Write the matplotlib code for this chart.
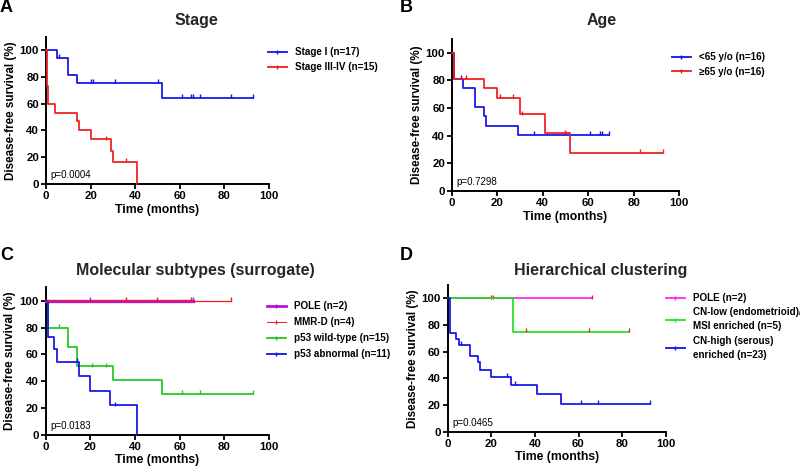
import matplotlib

matplotlib.use("Agg")
import matplotlib.pyplot as plt
import numpy as np
from matplotlib.lines import Line2D

plt.rcParams.update({
    "font.family": ["Liberation Sans", "DejaVu Sans"], "font.size": 8,
    "axes.linewidth": 1.4, "xtick.major.width": 1.3, "ytick.major.width": 1.3,
    "xtick.major.size": 3.5, "ytick.major.size": 3.5,
})

BLUE = "#1010ee"
RED = "#ee1c1c"
GREEN = "#1ec81e"
PURPLE = "#b414d2"
MAGENTA = "#ff22ee"

# ---- A: stage ----
a_names = ["Stage I (n=17)", "Stage III-IV (n=15)"]
a1_t = [0, 5, 10, 14, 52, 93]
a1_s = [100, 94.1, 81.6, 75.3, 64.5, 64.5]
a1_c = [6, 20, 21, 31, 50, 61, 65, 66, 69, 83, 93]
a2_t = [0, 0.3, 0.6, 1, 4, 14, 15, 20, 29, 30, 41]
a2_s = [100, 86.7, 73.3, 60, 53.3, 46.7, 40, 33.3, 25, 16.7, 0]
a2_c = [27, 36]

# ---- B: age ----
b_names = ["<65 y/o (n=16)", "\u226565 y/o (n=16)"]
b1_t = [0, 1, 5, 10, 14, 15, 29, 69]
b1_s = [100, 81.2, 74.4, 60.9, 54.1, 47.3, 40.6, 40.6]
b1_c = [4, 36, 50, 61, 65, 66, 69]
b2_t = [0, 1, 14, 20, 30, 41, 52, 93]
b2_s = [100, 81.2, 74.4, 67.6, 55.6, 41.8, 27.8, 27.8]
b2_c = [6, 21, 27, 31, 50, 83, 93]

# ---- C: molecular subtypes ----
c_names = ["POLE (n=2)", "MMR-D (n=4)", "p53 wild-type (n=15)", "p53 abnormal (n=11)"]
c1_t = [0, 66]
c1_s = [100, 100]
c1_c = [20, 66]
c2_t = [0, 83]
c2_s = [100, 100]
c2_c = [36, 50, 65, 83]
c3_t = [0, 1, 10, 14, 30, 52, 93]
c3_s = [100, 80, 65.7, 50.9, 40.8, 30.7, 30.7]
c3_c = [6, 21, 27, 61, 69, 93]
c4_t = [0, 1, 4, 5, 15, 20, 29, 41]
c4_s = [100, 72.7, 63.6, 54.5, 43.6, 32.7, 21.8, 0]
c4_c = [14, 31]

# ---- D: hierarchical clustering ----
d_names = ["POLE (n=2)", "CN-low (endometrioid)/\nMSI enriched (n=5)", "CN-high (serous)\nenriched (n=23)"]
d1_t = [0, 66]
d1_s = [100, 100]
d1_c = [20, 21, 66]
d2_t = [0, 30, 83]
d2_s = [100, 75, 75]
d2_c = [36, 65, 83]
d3_t = [0, 1, 4, 5, 10, 14, 15, 20, 29, 41, 52, 93]
d3_s = [100, 74, 69.6, 65.2, 56.5, 52.2, 46.4, 41.2, 35.1, 28.1, 21.1, 21.1]
d3_c = [6, 27, 31, 61, 69, 93]


def km(ax, t, s, cens, color, lw=1.25, ccolor=None, z=3):
    ax.step(t, s, where="post", color=color, lw=lw, zorder=z, clip_on=False)
    cy = [s[np.searchsorted(t, c, side="right") - 1] for c in cens]
    ax.plot(cens, np.array(cy) + 1.2, ls="none", marker="|", ms=3.5, mew=1.0,
            color=ccolor or color, zorder=z, clip_on=False)


def style(ax, pval):
    ax.set_xlim(0, 100)
    ax.set_ylim(0, 110)
    ax.set_xticks(range(0, 101, 20))
    ax.set_yticks(range(0, 101, 20))
    for s in ("top", "right"):
        ax.spines[s].set_visible(False)
    for lab in ax.get_xticklabels() + ax.get_yticklabels():
        lab.set_fontweight("bold")
    ax.tick_params(labelsize=8.2, pad=1.5)
    ax.set_xlabel("Time (months)", fontsize=8.8, fontweight="bold", labelpad=2)
    ax.set_ylabel("Disease-free survival (%)", fontsize=8.4, fontweight="bold", labelpad=2)
    ax.text(2, 3, pval, fontsize=7, ha="left", va="bottom")


def legend(ax, handles, names, x, y, spacing=0.55, linesp=1.2):
    leg = fig.legend(handles, names, loc="upper left", bbox_to_anchor=(x / 800, 1 - y / 470),
                     frameon=False, prop={"size": 7.1, "weight": "bold"}, handlelength=1.9,
                     handletextpad=0.8, labelspacing=spacing, borderpad=0, borderaxespad=0)
    for t in leg.get_texts():
        t.set_linespacing(linesp)
    return leg


def h(color, lw=1.3):
    return Line2D([0], [0], color=color, lw=lw, marker="|", ms=3.5, mew=1.0)


fig = plt.figure(figsize=(8, 4.7), dpi=100)
W, H = 800, 470


def axes_px(l, r, b, t):
    return fig.add_axes([l / W, 1 - b / H, (r - l) / W, (b - t) / H])


axA = axes_px(46, 269, 184, 36.6)
km(axA, a1_t, a1_s, a1_c, BLUE)
km(axA, a2_t, a2_s, a2_c, RED)
style(axA, "p=0.0004")
legend(axA, [h(BLUE), h(RED)], a_names, 268, 47)

axB = axes_px(452, 679, 191, 39)
km(axB, b1_t, b1_s, b1_c, BLUE)
km(axB, b2_t, b2_s, b2_c, RED)
style(axB, "p=0.7298")
legend(axB, [h(BLUE), h(RED)], b_names, 672, 52, 0.5)

axC = axes_px(45.5, 269, 434.7, 287.3)
km(axC, c1_t, c1_s, c1_c, PURPLE, lw=2.4, z=3)
km(axC, c2_t, c2_s, c2_c, RED, lw=0.9, z=4)
km(axC, c3_t, c3_s, c3_c, GREEN)
km(axC, c4_t, c4_s, c4_c, BLUE)
style(axC, "p=0.0183")
legend(axC, [h(PURPLE, 2.0), h(RED, 0.7), h(GREEN), h(BLUE)], c_names, 267, 301, 0.62)

axD = axes_px(447.7, 665.7, 431.7, 285)
km(axD, d1_t, d1_s, d1_c, MAGENTA, ccolor=RED)
km(axD, d2_t, d2_s, d2_c, "#22e022", ccolor=RED)
km(axD, d3_t, d3_s, d3_c, BLUE)
style(axD, "p=0.0465")
legend(axD, [h(MAGENTA), h("#22e022"), h(BLUE)], d_names, 666, 293, 0.45, 1.5)

# panel titles and letters
for x, y, txt in [(196, 21, "Stage"), (602, 21, "Age"),
                  (195, 270, "Molecular subtypes (surrogate)"), (601, 270, "Hierarchical clustering")]:
    fig.text(x / W, 1 - y / H, txt, fontsize=11.5, fontweight="bold", ha="center", va="center",
             color="#262626")
for x, y, txt in [(0, 8, "A"), (400, 8, "B"), (0, 256, "C"), (400, 256, "D")]:
    fig.text(x / W, 1 - y / H, txt, fontsize=13, fontweight="bold", ha="left", va="center")

fig.savefig("out.png", dpi=100)
